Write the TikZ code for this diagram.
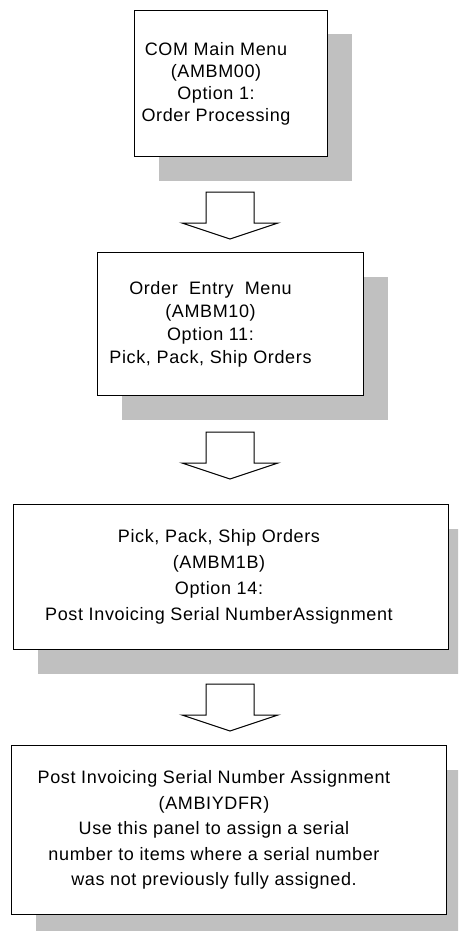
\documentclass[tikz,border=0pt]{standalone}
\usepackage{fontspec}
\setmainfont{Liberation Sans}[LetterSpace=3.5]
\usetikzlibrary{shadows}
\definecolor{shadowgray}{RGB}{192,192,192}

\begin{document}
\begin{tikzpicture}[x=1pt, y=-1pt,
    menubox/.style={draw, line width=1pt, fill=white, anchor=north west, inner sep=0pt,
        drop shadow={shadow xshift=24pt, shadow yshift=-24pt, fill=shadowgray, opacity=1}},
    menutext/.style={align=center, inner sep=0pt, font=\fontsize{18}{#1}\selectfont},
    arrowline/.style={draw, line width=1pt, fill=white}]
    \clip (0,0) rectangle (458,931);

    % Cajas de menu
    \node[menubox, minimum width=193pt, minimum height=146pt] (b1) at (134,10) {};
    \node[menubox, minimum width=266pt, minimum height=143pt] (b2) at (97,252) {};
    \node[menubox, minimum width=435pt, minimum height=145pt] (b3) at (13,504) {};
    \node[menubox, minimum width=435pt, minimum height=169pt] (b4) at (11,745) {};

    % Textos
    \node[menutext=22pt] (t1) at ([xshift=-15pt]b1.center)
        {COM Main Menu\\(AMBM00)\\Option 1:\\Order Processing};
    \node[menutext=23pt] (t2) at ([xshift=-20pt]b2.center)
        {Order~ Entry~ Menu\\(AMBM10)\\Option 11:\\Pick, Pack, Ship Orders};
    \node[menutext=26pt] (t3) at ([xshift=-12pt]b3.center)
        {Pick, Pack, Ship Orders\\(AMBM1B)\\Option 14:\\Post Invoicing Serial NumberAssignment};
    \node[menutext=25.5pt] (t4) at ([xshift=-15pt]b4.center)
        {Post Invoicing Serial Number Assignment\\(AMBIYDFR)\\Use this panel to assign a serial\\number to items where a serial number\\was not previously fully assigned.};

    % Flechas de bloque
    \foreach \ay [count=\i] in {192,432,684} {
        \coordinate (a\i) at (230,\ay);
        \draw[arrowline] (a\i) ++(-24,0) -- ++(0,31) -- ++(-24,0) -- ++(48,16)
            -- ++(48,-16) -- ++(-24,0) -- ++(0,-31) -- cycle;
    }
\end{tikzpicture}
\end{document}
